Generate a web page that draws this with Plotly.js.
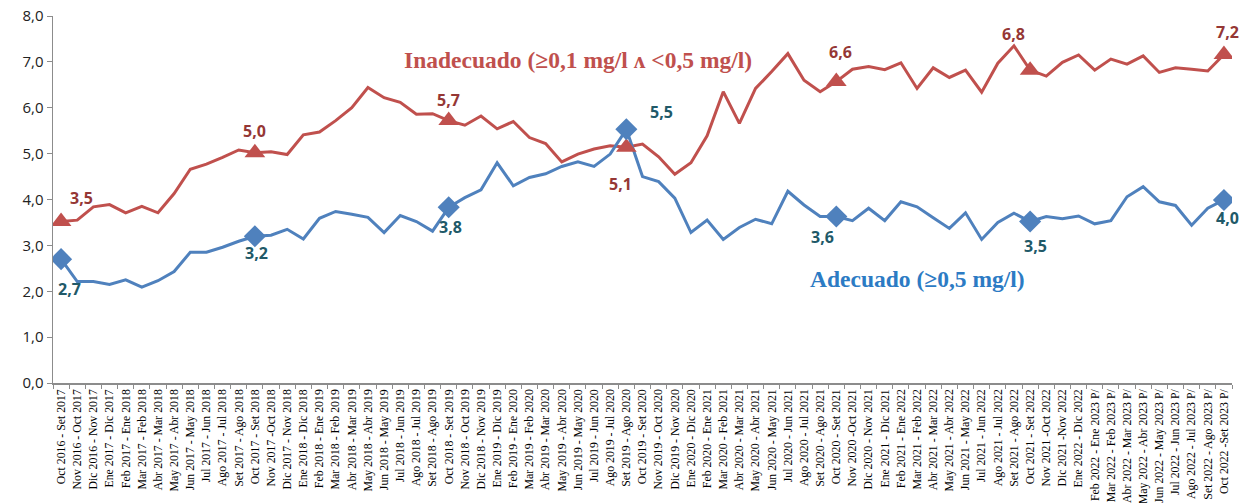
<!DOCTYPE html>
<html>
<head>
<meta charset="utf-8">
<script src="https://cdn.plot.ly/plotly-3.0.1.min.js"></script>
<style>html,body{margin:0;padding:0;background:#fff;}#chart{width:1250px;height:503px;}</style>
</head>
<body>
<div id="chart"></div>
<script>
const categories = [
"Oct 2016 - Set 2017","Nov 2016 - Oct 2017","Dic 2016 - Nov 2017","Ene 2017 - Dic 2017","Feb 2017 - Ene 2018","Mar 2017 - Feb 2018","Abr 2017 - Mar 2018","May 2017 - Abr 2018","Jun 2017 - May 2018","Jul 2017 - Jun 2018","Ago 2017 - Jul 2018","Set 2017 - Ago 2018",
"Oct 2017 - Set 2018","Nov 2017 -Oct 2018","Dic 2017 - Nov 2018","Ene 2018 - Dic 2018","Feb 2018 - Ene 2019","Mar 2018 - Feb 2019","Abr 2018 - Mar 2019","May 2018 - Abr 2019","Jun 2018 - May 2019","Jul 2018 - Jun 2019","Ago 2018 - Jul 2019","Set 2018 - Ago 2019",
"Oct 2018 - Set 2019","Nov 2018 - Oct 2019","Dic 2018 - Nov 2019","Ene 2019 - Dic 2019","Feb 2019 - Ene 2020","Mar 2019 - Feb 2020","Abr 2019 - Mar 2020","May 2019 - Abr 2020","Jun 2019 - May 2020","Jul 2019 - Jun 2020","Ago 2019 - Jul 2020","Set 2019 - Ago 2020",
"Oct 2019 - Set 2020","Nov 2019 - Oct 2020","Dic 2019 - Nov 2020","Ene 2020 - Dic 2020","Feb 2020 - Ene 2021","Mar 2020 - Feb 2021","Abr 2020 - Mar 2021","May 2020 - Abr 2021","Jun 2020 - May 2021","Jul 2020 - Jun 2021","Ago 2020 - Jul 2021","Set 2020 - Ago 2021",
"Oct 2020 - Set 2021","Nov 2020 -Oct 2021","Dic 2020 - Nov 2021","Ene 2021 - Dic 2021","Feb 2021 - Ene 2022","Mar 2021 - Feb 2022","Abr 2021 - Mar 2022","May 2021 - Abr 2022","Jun 2021 - May 2022","Jul 2021 - Jun 2022","Ago 2021 - Jul 2022","Set 2021 - Ago 2022",
"Oct 2021 - Set 2022","Nov 2021 -Oct 2022","Dic 2021 -Nov 2022","Ene 2022 - Dic 2022","Feb 2022 - Ene 2023 P/","Mar 2022 - Feb 2023 P/","Abr 2022 - Mar 2023 P/","May 2022 - Abr 2023 P/","Jun 2022 - May 2023 P/","Jul 2022 - Jun 2023 P/","Ago 2022 - Jul 2023 P/","Set 2022 - Ago 2023 P/",
"Oct 2022 -Set 2023 P/"
];

const inadecuado = [
3.52,3.55,3.84,3.89,3.71,3.85,3.71,4.13,4.66,4.77,4.92,5.08,
5.02,5.04,4.98,5.41,5.47,5.72,6.00,6.44,6.22,6.12,5.86,5.87,
5.72,5.62,5.82,5.54,5.70,5.35,5.22,4.82,4.99,5.10,5.17,5.14,
5.21,4.93,4.55,4.80,5.39,6.35,5.66,6.42,6.79,7.18,6.60,6.35,
6.57,6.84,6.90,6.83,6.98,6.42,6.87,6.66,6.82,6.34,6.97,7.35,
6.82,6.69,6.99,7.15,6.82,7.06,6.95,7.13,6.77,6.87,6.84,6.80,
7.16
];

const adecuado = [
2.70,2.21,2.21,2.15,2.25,2.09,2.23,2.43,2.85,2.85,2.96,3.09,
3.20,3.22,3.35,3.14,3.59,3.74,3.68,3.61,3.28,3.65,3.52,3.31,
3.83,4.04,4.21,4.80,4.30,4.48,4.56,4.72,4.82,4.72,4.99,5.53,
4.50,4.39,4.03,3.28,3.55,3.13,3.39,3.57,3.47,4.18,3.88,3.63,
3.63,3.54,3.81,3.54,3.95,3.84,3.60,3.37,3.71,3.13,3.50,3.70,
3.52,3.63,3.58,3.64,3.47,3.54,4.06,4.28,3.95,3.87,3.44,3.81,
3.99
];

const markerIdx = [0,12,24,35,48,60,72];
const seriesNames = ["Inadecuado (≥0,1 mg/l ʌ <0,5 mg/l)", "Adecuado (≥0,5 mg/l)"];

const redLine = "#C0504D", blueLine = "#4F81BD";
const redLabel = "#953735", blueLabel = "#215968";

const fmt = v => v.toFixed(1).replace(".", ",");

const traces = [
  {x: categories, y: inadecuado, type: "scatter", mode: "lines", line: {color: redLine, width: 3}, hoverinfo: "skip"},
  {x: categories, y: adecuado, type: "scatter", mode: "lines", line: {color: blueLine, width: 3}, hoverinfo: "skip"},
  {x: markerIdx.map(i => categories[i]), y: markerIdx.map(i => inadecuado[i]), type: "scatter", mode: "markers",
   marker: {symbol: "triangle-up", size: 18, color: redLine}},
  {x: markerIdx.map(i => categories[i]), y: markerIdx.map(i => adecuado[i]), type: "scatter", mode: "markers",
   marker: {symbol: "diamond", size: 17, color: blueLine}}
];

// label offsets (px, screen down positive) for each marker label
const redOff = [[20,-24],[0,-22],[0,-21],[-6,37],[4,-30],[-17,-36],[4,-23]];
const blueOff = [[8,30],[2,17],[2,20],[35,-17],[-14,21],[5,24],[4,18]];

const annotations = [];
markerIdx.forEach((idx, k) => {
  annotations.push({x: categories[idx], y: inadecuado[idx], text: fmt(inadecuado[idx]), showarrow: false,
    xshift: redOff[k][0], yshift: -redOff[k][1], font: {family: "Open Sans, Noto Sans, sans-serif", size: 16, color: redLabel, weight: 700}});
  annotations.push({x: categories[idx], y: adecuado[idx], text: fmt(adecuado[idx]), showarrow: false,
    xshift: blueOff[k][0], yshift: -blueOff[k][1], font: {family: "Open Sans, Noto Sans, sans-serif", size: 16, color: blueLabel, weight: 700}});
});
annotations.push({x: categories[32], y: 7.04, text: "<b>" + seriesNames[0] + "</b>", showarrow: false,
  font: {family: "'Liberation Serif', serif", size: 23.5, color: redLine}});
annotations.push({x: categories[53], y: 2.27, text: "<b>" + seriesNames[1] + "</b>", showarrow: false,
  font: {family: "'Liberation Serif', serif", size: 23.5, color: "#2C7BC4"}});

const layout = {
  width: 1250, height: 503,
  margin: {l: 53, r: 18, t: 16, b: 120},
  paper_bgcolor: "#fff", plot_bgcolor: "#fff",
  showlegend: false,
  separators: ",.",
  xaxis: {
    type: "category", range: [-0.5, 72.5], showgrid: false, zeroline: false,
    showline: true, linecolor: "#8C8C8C", linewidth: 1.5,
    ticks: "outside", tickson: "boundaries", ticklen: 4, tickcolor: "#8C8C8C",
    tickangle: -90, tickfont: {family: "'Liberation Serif', 'Times New Roman', serif", size: 11.8, color: "#000"},
    automargin: false
  },
  yaxis: {
    range: [0, 8], dtick: 1, tick0: 0, tickformat: ".1f", showgrid: false, zeroline: false,
    showline: true, linecolor: "#8C8C8C", linewidth: 1.5,
    ticks: "outside", ticklen: 5, tickcolor: "#8C8C8C",
    tickfont: {family: "Open Sans, Noto Sans, sans-serif", size: 15, color: "#222"},
    automargin: false
  },
  annotations: annotations
};

Plotly.newPlot("chart", traces, layout, {displayModeBar: false, staticPlot: true});
</script>
</body>
</html>
